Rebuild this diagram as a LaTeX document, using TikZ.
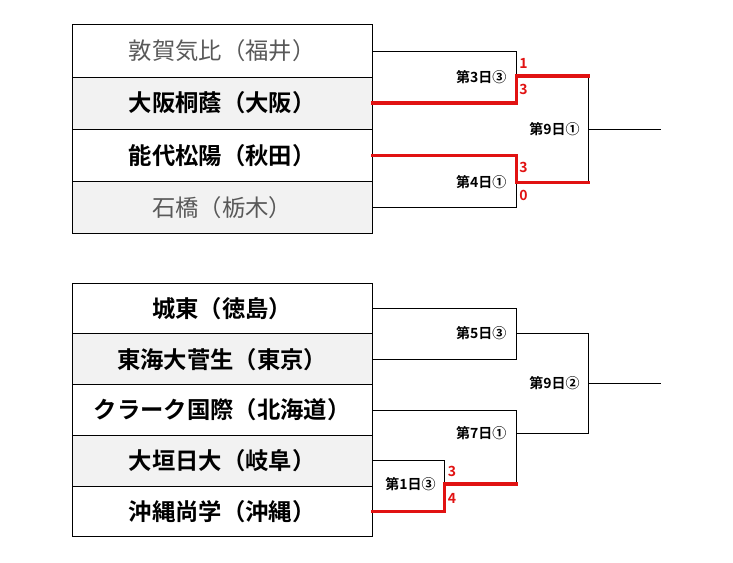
\documentclass[tikz,border=0pt]{standalone}
\usepackage{fontspec}
\newfontfamily\jp{Noto Sans CJK JP}[BoldFont={Noto Sans CJK JP Bold}]
\definecolor{winred}{RGB}{225,18,18}
\definecolor{rowgray}{RGB}{242,242,242}
\definecolor{losegray}{RGB}{89,89,89}
\begin{document}
\begin{tikzpicture}[x=0.75pt,y=-0.75pt,
  rowbox/.style={draw=black,line width=0.75pt,minimum width=225pt,inner sep=0pt,outer sep=0pt,font=\jp\fontsize{17.5pt}{20pt}\selectfont},
  toprow/.style={rowbox,minimum height=39.06pt},
  botrow/.style={rowbox,minimum height=38.01pt},
  shaded/.style={fill=rowgray},
  win/.style={font=\jp\bfseries\fontsize{17.5pt}{20pt}\selectfont,text=black},
  lose/.style={text=losegray},
  thin/.style={line width=0.7pt,black},
  redline/.style={line width=2.4pt,winred,line cap=rect},
  gamelabel/.style={anchor=east,inner sep=0pt,font=\jp\bfseries\fontsize{10.5pt}{12pt}\selectfont},
  score/.style={anchor=west,inner sep=0pt,text=winred,font=\jp\bfseries\fontsize{10.5pt}{12pt}\selectfont}]
\useasboundingbox (0,0) rectangle (733,563);
\fill[white] (0,0) rectangle (733,563);

% top table
\node[toprow,lose] (t1) at (222.2,51.0) {敦賀気比（福井）};
\node[toprow,shaded,win] (t2) at (222.2,103.1) {大阪桐蔭（大阪）};
\node[toprow,win] (t3) at (222.2,155.2) {能代松陽（秋田）};
\node[toprow,shaded,lose] (t4) at (222.2,207.3) {石橋（栃木）};

% bottom table
\node[botrow,win] (b1) at (222.2,308.6) {城東（徳島）};
\node[botrow,shaded,win] (b2) at (222.2,359.3) {東海大菅生（東京）};
\node[botrow,win] (b3) at (222.2,410.0) {クラーク国際（北海道）};
\node[botrow,shaded,win] (b4) at (222.2,460.7) {大垣日大（岐阜）};
\node[botrow,win] (b5) at (222.2,511.4) {沖縄尚学（沖縄）};

% columns
\coordinate (cA) at (516.7,0);
\coordinate (cB) at (588.3,0);
\coordinate (cC) at (661,0);
\coordinate (cD) at (444.3,0);

% top bracket
\coordinate (s1) at (516.7,76);
\coordinate (s2) at (516.7,182.3);
\coordinate (f1) at (588.3,129);
\draw[thin] (t1.east) -| (t2.east -| cA);
\draw[thin] (t4.east) -| (t3.east -| cA);
\draw[thin] (s1 -| cB) -- (s2 -| cB);
\draw[thin] (f1) -- (f1 -| cC);
\draw[redline] (t2.east) -| (s1) -- (s1 -| cB);
\draw[redline] (t3.east) -| (s2) -- (s2 -| cB);

\node[gamelabel] (g3) at (506.7,76.7) {第3日③};
\node[gamelabel] (g4) at (506.7,182.3) {第4日①};
\node[gamelabel] (g9a) at (580,129) {第9日①};
\node[score] (sc1) at (519,63) {1};
\node[score] (sc2) at (519,89) {3};
\node[score] (sc3) at (519,167.7) {3};
\node[score] (sc4) at (519,195) {0};

% bottom bracket
\coordinate (u1) at (516.7,333.3);
\coordinate (u2) at (516.7,433.3);
\coordinate (u3) at (516.7,484);
\coordinate (d1) at (444.3,484);
\coordinate (f2) at (588.3,383.3);
\draw[thin] (b1.east) -| (b2.east -| cA) -- (b2.east);
\draw[thin] (b3.east) -| (u3);
\draw[thin] (b4.east) -| (d1);
\draw[thin] (u1) -| (u2 -| cB) -- (u2);
\draw[thin] (f2) -- (f2 -| cC);
\draw[redline] (b5.east) -| (d1) -- (u3);

\node[gamelabel] (g5) at (506.7,333.3) {第5日③};
\node[gamelabel] (g7) at (506.7,433.3) {第7日①};
\node[gamelabel] (g9b) at (580,383.3) {第9日②};
\node[gamelabel] (g1) at (436,484.3) {第1日③};
\node[score] (sc5) at (447.5,471.7) {3};
\node[score] (sc6) at (447.5,498.3) {4};
\end{tikzpicture}
\end{document}
